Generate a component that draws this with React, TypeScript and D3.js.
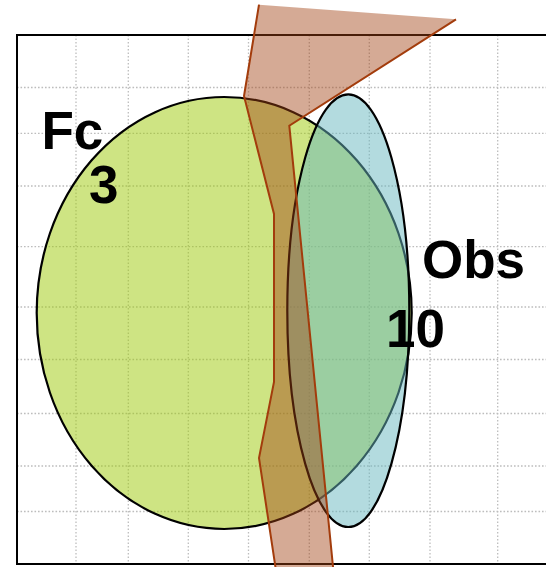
import React from "react";
import * as d3 from "d3";

// Plot frame in its own units (origin at the frame's top-left corner)
const frameWidth = 553;
const frameHeight = 529;

// Grid tick positions (plot units)
const gridX = [59, 111.3, 171.3, 231.5, 292.3, 352.3, 413, 480.7];
const gridY = [52.5, 98.3, 151, 211.7, 272, 324.5, 378.5, 431, 476.5];

// Sets drawn as ellipses: name, count, centre and radii (plot units)
const setNames = ["Fc", "Obs"];
const setCounts = [3, 10];
const setCx = [207.2, 331.3];
const setCy = [278, 275.7];
const setRx = [187.5, 61];
const setRy = [216, 216.3];
const setFill = ["rgb(157,201,7)", "rgb(103,183,191)"];

// Label anchors (plot units): name line and count line
const nameX = [24.5, 405];
const nameY = [113.5, 243];
const countX = [72, 369];
const countY = [167.5, 312];

// Band polygon outline: left edge and right edge (plot units)
const bandLeft: [number, number][] = [
  [242, -30.3],
  [227, 61],
  [257, 179],
  [257, 347],
  [242, 423],
  [263.4, 565],
];
const bandRight: [number, number][] = [
  [439, -15.7],
  [272.3, 90.7],
  [319.3, 565],
];

export default function App() {
  const W = 546;
  const H = 567;
  const x = d3.scaleLinear().domain([0, frameWidth]).range([17, 17 + frameWidth]);
  const y = d3.scaleLinear().domain([0, frameHeight]).range([35, 35 + frameHeight]);

  const line = d3
    .line<[number, number]>()
    .x((d) => x(d[0]))
    .y((d) => y(d[1]));

  const bandPoly = [...bandLeft, ...bandRight.slice().reverse()];
  const bandArea = line(bandPoly) + "Z";

  const font = "'Liberation Sans', Arial, Helvetica, sans-serif";

  return (
    <svg
      width={W}
      height={H}
      style={{ position: "absolute", left: 0, top: 0, background: "#fff" }}
    >
      {/* grid */}
      <g stroke="#bdbdbd" strokeWidth={1.3} strokeDasharray="1.6 1.9">
        {gridX.map((g, i) => (
          <line key={"gx" + i} x1={x(g)} x2={x(g)} y1={y(0)} y2={y(frameHeight)} />
        ))}
        {gridY.map((g, i) => (
          <line key={"gy" + i} x1={x(0)} x2={x(frameWidth)} y1={y(g)} y2={y(g)} />
        ))}
      </g>
      {/* frame */}
      <rect
        x={x(0)}
        y={y(0)}
        width={x(frameWidth) - x(0)}
        height={y(frameHeight) - y(0)}
        fill="none"
        stroke="#000"
        strokeWidth={2}
      />
      {/* set ellipses */}
      {setNames.map((n, i) => (
        <ellipse
          key={n}
          cx={x(setCx[i])}
          cy={y(setCy[i])}
          rx={x(setRx[i]) - x(0)}
          ry={y(setRy[i]) - y(0)}
          fill={setFill[i]}
          fillOpacity={0.5}
          stroke="#000"
          strokeWidth={2.2}
        />
      ))}
      {/* band */}
      <path d={bandArea} fill="rgb(162,67,20)" fillOpacity={0.45} stroke="none" />
      <path d={line(bandLeft) || ""} fill="none" stroke="#a33c0c" strokeWidth={2} />
      <path d={line(bandRight) || ""} fill="none" stroke="#a33c0c" strokeWidth={2} />
      {/* labels */}
      <g fontFamily={font} fontWeight="bold" fontSize={53} fill="#000">
        {setNames.map((n, i) => (
          <text key={"n" + n} x={x(nameX[i])} y={y(nameY[i])}>
            {n}
          </text>
        ))}
        {setCounts.map((c, i) => (
          <text key={"c" + i} x={x(countX[i])} y={y(countY[i])}>
            {c}
          </text>
        ))}
      </g>
    </svg>
  );
}
